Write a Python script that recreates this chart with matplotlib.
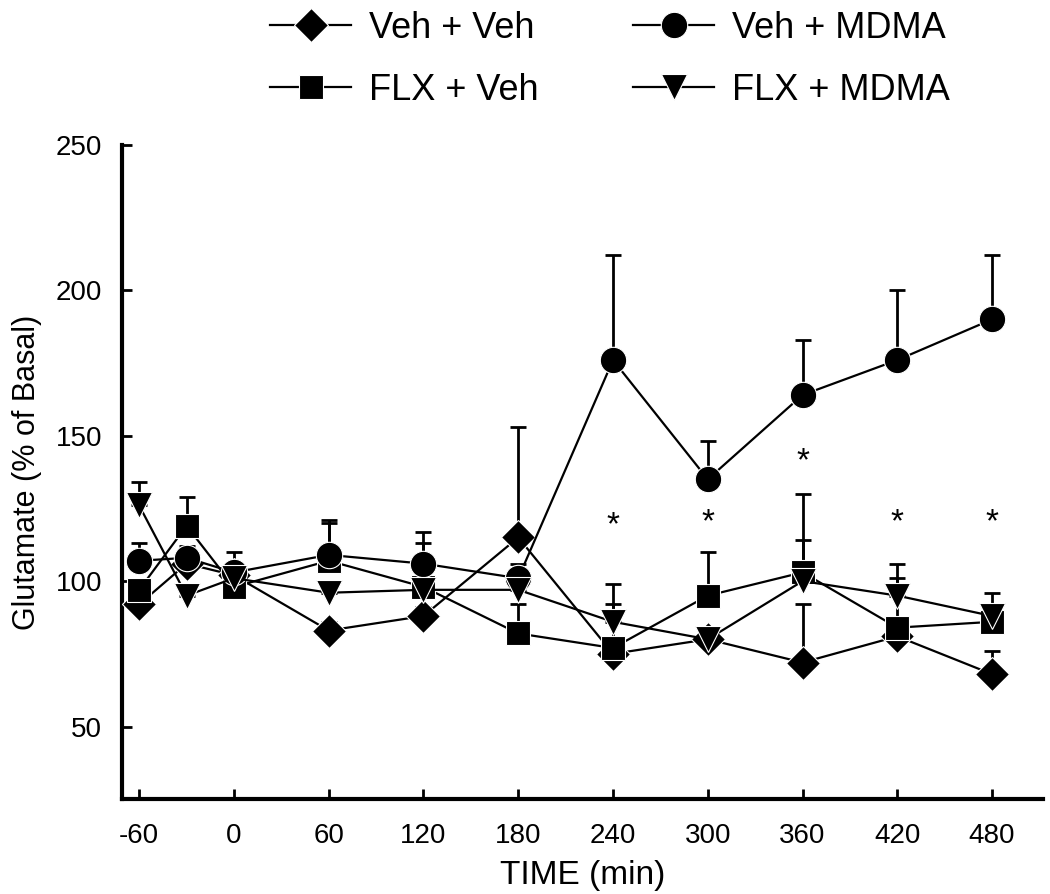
import numpy as np
import matplotlib
matplotlib.use("Agg")
import matplotlib.pyplot as plt

plt.rcParams["font.family"] = ["Liberation Sans", "DejaVu Sans"]
plt.rcParams["axes.unicode_minus"] = False

time_min = [-60, -30, 0, 60, 120, 180, 240, 300, 360, 420, 480]

veh_veh = [92, 106, 102, 83, 88, 115, 75, 80, 72, 81, 68]
veh_veh_sem = [3, 3, 3, 3, 3, 38, 4, 3, 20, 3, 8]

veh_mdma = [107, 108, 103, 109, 106, 101, 176, 135, 164, 176, 190]
veh_mdma_sem = [6, 4, 7, 12, 11, 5, 36, 13, 19, 24, 22]

flx_veh = [97, 119, 98, 107, 98, 82, 77, 95, 103, 84, 86]
flx_veh_sem = [3, 10, 4, 13, 15, 10, 15, 15, 27, 17, 10]

flx_mdma = [126, 95, 101, 96, 97, 97, 86, 80, 100, 95, 88]
flx_mdma_sem = [8, 3, 3, 3, 3, 3, 13, 3, 14, 11, 3]

star_x = [240, 300, 360, 420, 480]
star_y = [119, 120, 141, 120, 120]

series = [
    ("Veh + Veh", veh_veh, veh_veh_sem, "D", 17),
    ("FLX + Veh", flx_veh, flx_veh_sem, "s", 17),
    ("Veh + MDMA", veh_mdma, veh_mdma_sem, "o", 19),
    ("FLX + MDMA", flx_mdma, flx_mdma_sem, "v", 19),
]

fig = plt.figure(figsize=(10.5, 8.94), dpi=100)
ax = fig.add_axes([0.116, 0.106, 0.877, 0.732])

handles = []
for label, vals, sem, mk, ms in series:
    vals = np.array(vals, dtype=float)
    sem = np.array(sem, dtype=float)
    ax.errorbar(time_min, vals, yerr=[np.zeros_like(sem), sem], fmt="none",
                ecolor="black", elinewidth=2, capsize=5.5, capthick=2, zorder=2)
    h, = ax.plot(time_min, vals, color="black", lw=1.6, marker=mk, ms=ms,
                 mfc="black", mec="white", mew=0.8, label=label, zorder=3)
    handles.append(h)

for sx, sy in zip(star_x, star_y):
    ax.text(sx, sy, "*", ha="center", va="center", fontsize=24)

ax.set_xlim(-71, 512)
ax.set_ylim(25, 250)
ax.set_xticks(time_min[:1] + time_min[2:])
ax.set_yticks([50, 100, 150, 200, 250])
ax.tick_params(direction="in", length=7, width=2, labelsize=20)
ax.tick_params(axis="x", pad=17)
ax.tick_params(axis="y", pad=14)
for side in ("top", "right"):
    ax.spines[side].set_visible(False)
for side in ("left", "bottom"):
    ax.spines[side].set_linewidth(3)

ax.set_xlabel("TIME (min)", fontsize=24, labelpad=8)
ax.set_ylabel("Glutamate (% of Basal)", fontsize=22, labelpad=10)

fig.legend(handles=handles, ncol=2, loc="upper left",
           bbox_to_anchor=(0.240, 1.008), frameon=False, fontsize=26,
           borderpad=0, handlelength=2.25, labelspacing=0.75, columnspacing=2.6,
           handletextpad=0.5, markerscale=1.0)

fig.savefig("out.png", dpi=100)
